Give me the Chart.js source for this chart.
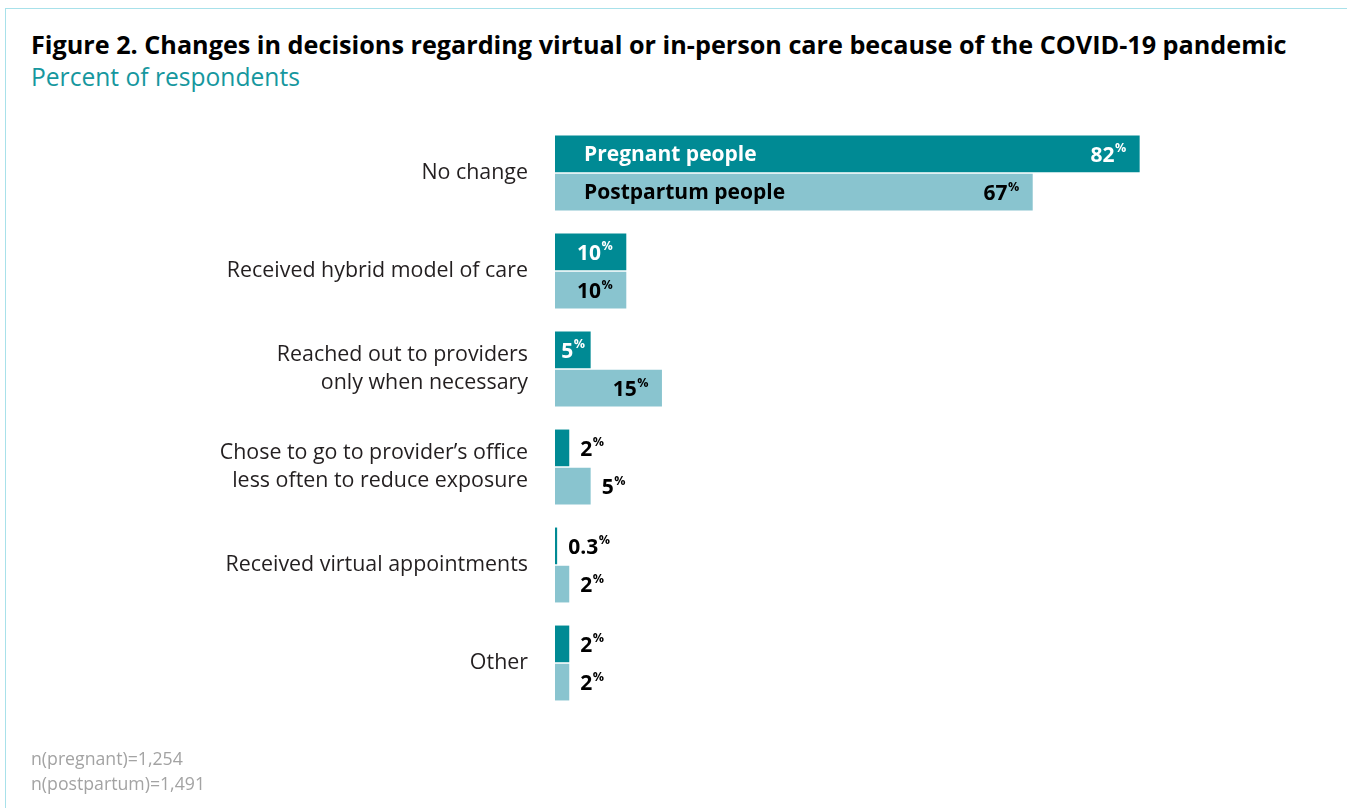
<!DOCTYPE html>
<html>
<head>
<meta charset="utf-8">
<script src="https://cdn.jsdelivr.net/npm/chart.js@4/dist/chart.umd.min.js"></script>
<style>
  body { margin: 0; width: 1347px; height: 808px; overflow: hidden; background: #fff; position: relative; font-family: "Open Sans", sans-serif; }
  .frame { position: absolute; left: 5px; top: 8px; right: -4px; bottom: -4px; border-top: 1.5px solid #a8e1ea; border-left: 1.5px solid #a8e1ea; }
  h1 { position: absolute; left: 31px; top: 27px; margin: 0; font-size: 25.2px; font-weight: 700; color: #000; white-space: nowrap; }
  .sub { position: absolute; left: 31px; top: 60px; font-size: 24.6px; color: #16979e; white-space: nowrap; }
  .note { position: absolute; left: 31px; top: 746px; font-size: 17.7px; line-height: 25px; color: #a3a3a3; }
  #chart { position: absolute; left: 0; top: 0; }
</style>
</head>
<body>
<div class="frame"></div>
<h1>Figure 2. Changes in decisions regarding virtual or in-person care because of the COVID-19 pandemic</h1>
<div class="sub">Percent of respondents</div>
<canvas id="chart" width="1347" height="808"></canvas>
<div class="note">n(pregnant)=1,254<br>n(postpartum)=1,491</div>
<script>
const categories = [
  'No change',
  'Received hybrid model of care',
  ['Reached out to providers', 'only when necessary'],
  ['Chose to go to provider\u2019s office', 'less often to reduce exposure'],
  'Received virtual appointments',
  'Other'
];
const seriesNames = ['Pregnant people', 'Postpartum people'];
const pregnant = [82, 10, 5, 2, 0.3, 2];
const postpartum = [67, 10, 15, 5, 2, 2];

const FONT = '"Open Sans", sans-serif';

// value labels with a small superscript %, inside the bar when it fits
const valueLabels = {
  id: 'valueLabels',
  afterDatasetsDraw(chart) {
    const ctx = chart.ctx;
    ctx.save();
    ctx.textBaseline = 'middle';
    chart.data.datasets.forEach((ds, di) => {
      const meta = chart.getDatasetMeta(di);
      meta.data.forEach((bar, i) => {
        const v = ds.data[i];
        const num = String(v);
        ctx.font = '700 21px ' + FONT;
        const nw = ctx.measureText(num).width;
        ctx.font = '700 12.5px ' + FONT;
        const pw = ctx.measureText('%').width;
        const tw = nw + pw;
        const w = bar.x - bar.base;
        let x;
        if (v >= ds.insideMin) {
          ctx.fillStyle = ds.insideColor;
          const pad = Math.min(14, (w - tw) / 2);
          x = bar.x - pad - tw;
        } else {
          ctx.fillStyle = '#000';
          x = bar.x + 11;
        }
        ctx.textAlign = 'left';
        ctx.font = '700 21px ' + FONT;
        ctx.fillText(num, x, bar.y + 2);
        ctx.font = '700 12.5px ' + FONT;
        ctx.fillText('%', x + nw + 0.5, bar.y - 5);

        // series name written inside the first row of bars
        if (i === 0) {
          ctx.font = '700 21px ' + FONT;
          ctx.fillStyle = ds.insideColor;
          ctx.fillText(ds.label, bar.base + 29, bar.y + 1);
        }
      });
    });
    ctx.restore();
  }
};

new Chart(document.getElementById('chart'), {
  type: 'bar',
  data: {
    labels: categories,
    datasets: [
      { label: seriesNames[0], data: pregnant, backgroundColor: '#008a94', insideColor: '#fff', insideMin: 5 },
      { label: seriesNames[1], data: postpartum, backgroundColor: '#89c4cf', insideColor: '#000', insideMin: 10 }
    ]
  },
  options: {
    indexAxis: 'y',
    responsive: false,
    animation: false,
    categoryPercentage: 0.78,
    barPercentage: 0.96,
    layout: { padding: { top: 124, bottom: 96, right: 79, left: 0 } },
    plugins: { legend: { display: false }, tooltip: { enabled: false } },
    scales: {
      x: { display: false, min: 0, max: 100 },
      y: {
        grid: { display: false, drawTicks: false },
        border: { display: false },
        afterFit(scale) { scale.width = 555; },
        ticks: {
          padding: 27,
          color: '#231f20',
          font: { family: FONT, size: 21.4, lineHeight: 1.31 }
        }
      }
    }
  },
  plugins: [valueLabels]
});
</script>
</body>
</html>
